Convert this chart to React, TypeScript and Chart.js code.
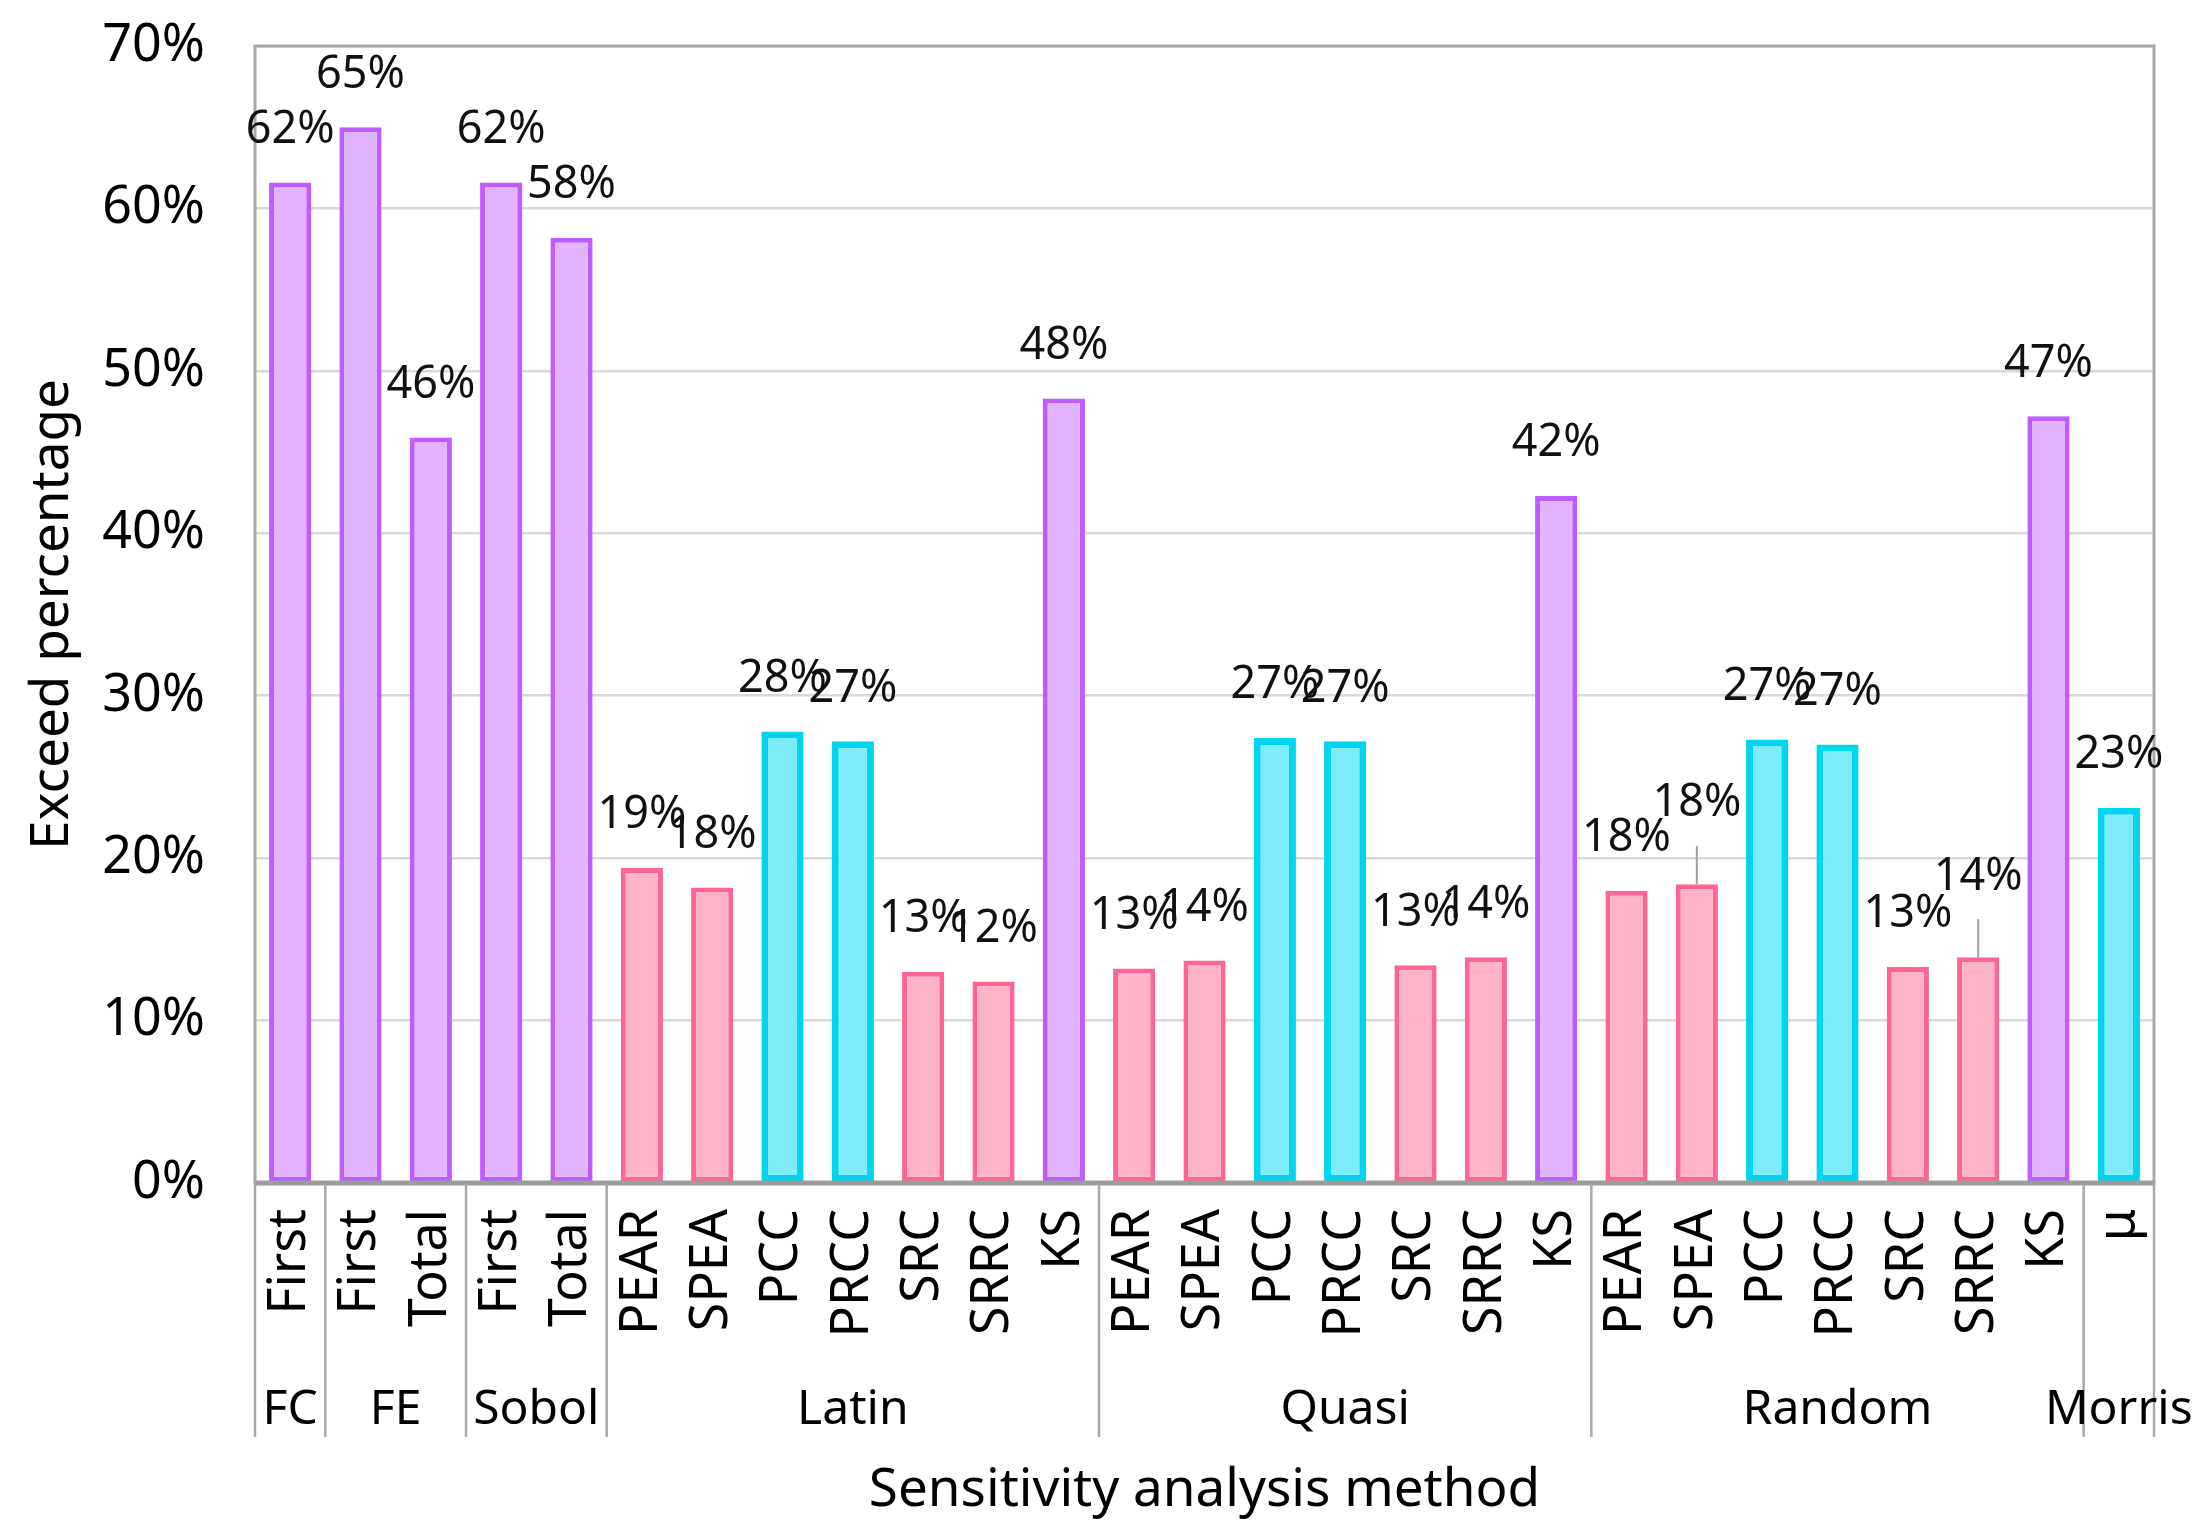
import React, { useEffect, useRef } from "react";
import { Chart, registerables } from "chart.js";

Chart.register(...registerables);

const methods = [
  "First", "First", "Total", "First", "Total",
  "PEAR", "SPEA", "PCC", "PRCC", "SRC", "SRRC", "KS",
  "PEAR", "SPEA", "PCC", "PRCC", "SRC", "SRRC", "KS",
  "PEAR", "SPEA", "PCC", "PRCC", "SRC", "SRRC", "KS",
  "μ",
];
const methodGroups = [
  "FC", "FE", "FE", "Sobol", "Sobol",
  "Latin", "Latin", "Latin", "Latin", "Latin", "Latin", "Latin",
  "Quasi", "Quasi", "Quasi", "Quasi", "Quasi", "Quasi", "Quasi",
  "Random", "Random", "Random", "Random", "Random", "Random", "Random",
  "Morris",
];
const exceedPct = [
  61.6, 65.0, 45.9, 61.6, 58.2,
  19.4, 18.2, 27.8, 27.2, 13.0, 12.4, 48.3,
  13.2, 13.7, 27.4, 27.2, 13.4, 13.9, 42.3,
  18.0, 18.4, 27.3, 27.0, 13.3, 13.9, 47.2,
  23.1,
];
const yTickValues = [0, 10, 20, 30, 40, 50, 60, 70];
// bars whose value label is lifted with a leader line (Random SPEA, Random SRRC)
const leaderLabelIdx = [20, 24];

const purpleKinds = ["First", "Total", "KS"];
const cyanKinds = ["PCC", "PRCC", "μ"];

const FONT = "'Noto Sans', 'DejaVu Sans', sans-serif";

function kindOf(m: string) {
  if (purpleKinds.includes(m)) return "purple";
  if (cyanKinds.includes(m)) return "cyan";
  return "pink";
}
const fills: Record<string, string> = { purple: "#E2B4FF", pink: "#FFB3C8", cyan: "#7DEBF8" };
const borders: Record<string, string> = { purple: "#BF5CFF", pink: "#FF6592", cyan: "#00D5EF" };
const bws: Record<string, number> = { purple: 5, pink: 5, cyan: 7 };

const decor = {
  id: "decor",
  afterDatasetsDraw(chart: any) {
    const { ctx, chartArea: a, scales } = chart;
    const x = scales.x;
    const y = scales.y;
    ctx.save();
    // plot border
    ctx.strokeStyle = "#A8A8A8";
    ctx.lineWidth = 3;
    ctx.strokeRect(a.left, a.top, a.right - a.left, a.bottom - a.top);
    // x axis line
    ctx.strokeStyle = "#9C9C9C";
    ctx.lineWidth = 5;
    ctx.beginPath();
    ctx.moveTo(a.left, y.getPixelForValue(0));
    ctx.lineTo(a.right, y.getPixelForValue(0));
    ctx.stroke();
    // group separators and labels
    const n = methods.length;
    const bounds: number[] = [];
    const bx = (i: number) =>
      i === 0 ? a.left : i === n ? a.right : (x.getPixelForValue(i - 1) + x.getPixelForValue(i)) / 2;
    for (let i = 0; i <= n; i++) {
      if (i === 0 || i === n || methodGroups[i] !== methodGroups[i - 1]) bounds.push(i);
    }
    ctx.strokeStyle = "#A8A8A8";
    ctx.lineWidth = 2.5;
    bounds.forEach((i) => {
      const px = bx(i);
      ctx.beginPath();
      ctx.moveTo(px, a.bottom);
      ctx.lineTo(px, a.bottom + 254);
      ctx.stroke();
    });
    ctx.fillStyle = "#000";
    ctx.font = `48px ${FONT}`;
    ctx.textAlign = "center";
    ctx.textBaseline = "middle";
    for (let k = 0; k < bounds.length - 1; k++) {
      const s = bounds[k];
      const e = bounds[k + 1];
      ctx.fillText(methodGroups[s], (bx(s) + bx(e)) / 2, a.bottom + 227);
    }
    // x title
    ctx.font = `53px ${FONT}`;
    ctx.fillText("Sensitivity analysis method", (a.left + a.right) / 2, a.bottom + 308);
    // data labels
    ctx.font = `45px ${FONT}`;
    ctx.fillStyle = "#111";
    ctx.textBaseline = "bottom";
    const meta = chart.getDatasetMeta(0);
    meta.data.forEach((bar: any, i: number) => {
      let lift = 30;
      if (leaderLabelIdx.includes(i)) {
        ctx.strokeStyle = "#A0A0A0";
        ctx.lineWidth = 2;
        ctx.beginPath();
        ctx.moveTo(bar.x, bar.y);
        ctx.lineTo(bar.x, bar.y - 38);
        ctx.stroke();
        lift = 58;
      }
      ctx.fillText(`${Math.round(exceedPct[i])}%`, bar.x, bar.y - lift);
    });
    ctx.restore();
  },
};

export default function App() {
  const ref = useRef<HTMLCanvasElement>(null);
  useEffect(() => {
    document.body.style.margin = "0";
    const kinds = methods.map(kindOf);
    const chart = new Chart(ref.current!, {
      type: "bar",
      data: {
        labels: methods,
        datasets: [
          {
            data: exceedPct,
            backgroundColor: kinds.map((k) => fills[k]),
            borderColor: kinds.map((k) => borders[k]),
            borderWidth: kinds.map((k) => bws[k]),
            borderSkipped: false,
            barPercentage: 0.6,
            categoryPercentage: 1,
          },
        ],
      },
      options: {
        animation: false,
        responsive: true,
        maintainAspectRatio: false,
        devicePixelRatio: 1,
        layout: { padding: { left: 0, right: 54, top: 46, bottom: 0 } },
        plugins: { legend: { display: false }, tooltip: { enabled: false } },
        scales: {
          x: {
            grid: { display: false },
            border: { display: false },
            ticks: {
              autoSkip: false,
              minRotation: 90,
              maxRotation: 90,
              padding: 18,
              color: "#000",
              font: { family: FONT, size: 52 },
            },
            afterFit: (s: any) => {
              s.height = 353;
            },
          },
          y: {
            min: 0,
            max: 70,
            afterBuildTicks: (s: any) => {
              s.ticks = yTickValues.map((v) => ({ value: v }));
            },
            grid: {
              color: "#D9D9D9",
              lineWidth: 2.5,
              drawTicks: true,
              tickLength: 48,
              tickColor: "rgba(0,0,0,0)",
            },
            border: { display: false },
            ticks: {
              padding: 2,
              color: "#000",
              font: { family: FONT, size: 52 },
              callback: (v: any) => `${v}%`,
            },
            title: {
              display: true,
              text: "Exceed percentage",
              color: "#000",
              font: { family: FONT, size: 53 },
              padding: { top: 21, bottom: 0 },
            },
            afterFit: (s: any) => {
              s.width = 255;
            },
          },
        },
      },
      plugins: [decor],
    });
    return () => chart.destroy();
  }, []);
  return (
    <div style={{ width: 2208, height: 1536, position: "relative" }}>
      <canvas ref={ref} />
    </div>
  );
}
